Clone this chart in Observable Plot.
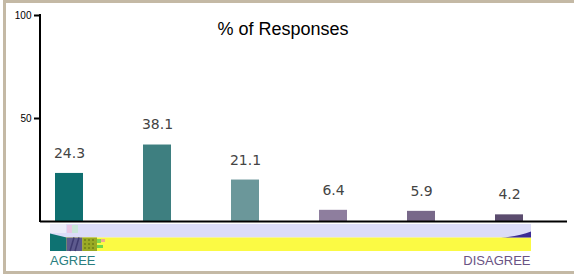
<!DOCTYPE html>
<html><head><meta charset="utf-8">
<script src="https://cdn.jsdelivr.net/npm/d3@7"></script>
<script src="https://cdn.jsdelivr.net/npm/@observablehq/plot@0.6"></script>
<style>
body{margin:0;background:#fff;}
#wrap{position:relative;width:574px;height:275px;overflow:hidden;background:#fff;font-family:"Liberation Sans",Arial,sans-serif;}
#wrap svg.plot{position:absolute;left:0;top:0;}
#border{position:absolute;left:3px;top:0px;width:620px;height:274px;box-sizing:border-box;border:3px solid #c4b9a5;border-right:none;}
#title{position:absolute;left:183px;top:20px;width:200px;text-align:center;font-size:18px;line-height:18px;color:#000;white-space:nowrap;}
.end{position:absolute;top:254px;font-size:13px;line-height:13px;white-space:nowrap;}
#agree{left:50px;color:#2a7e80;}
#disagree{right:43.5px;color:#6a5384;}
#strip{position:absolute;left:0;top:0;}
</style>
</head><body>
<div id="wrap">
  <div id="border"></div>
  <div id="chart"></div>
  <svg id="strip" width="574" height="275">
    <rect x="50" y="224" width="481" height="13.5" fill="#dcdcf8"/>
    <rect x="50" y="224" width="16" height="9" fill="#ececfa"/>
    <rect x="67" y="225" width="5" height="8" fill="#e8c6e6"/>
    <rect x="72" y="225" width="6" height="8" fill="#c8e6d8"/>
    <rect x="50" y="237.5" width="481" height="13.5" fill="#fbfa44"/>
    <polygon points="50,233.5 66.5,237.5 66.5,251 50,251" fill="#0e7272"/>
    <rect x="66.5" y="237.5" width="16" height="13.5" fill="#5d5a8e"/>
    <path d="M70,251 L74,237.5 M75,251 L79,237.5" stroke="#3e3a70" stroke-width="1.5"/>
    <rect x="82.5" y="237.5" width="14.5" height="13.5" fill="#9aaa24"/>
    <path d="M84,240 h12 M84,244 h12 M84,248 h12" stroke="#5a6a10" stroke-width="1.2" stroke-dasharray="2 2"/>
    <rect x="97" y="239" width="4" height="4" fill="#80d850"/>
    <rect x="101" y="239" width="4" height="3" fill="#f0a890"/>
    <rect x="97" y="245" width="6" height="3" fill="#70d848"/>
    <path d="M501,237.5 Q519,236.5 531,231.5 L531,237.5 Z" fill="#3c2c94"/>
  </svg>
  <div id="title">% of Responses</div>
  <div class="end" id="agree">AGREE</div>
  <div class="end" id="disagree">DISAGREE</div>
</div>
<script>
const categories = ["1", "2", "3", "4", "5", "6"];
const values = [24.3, 38.1, 21.1, 6.4, 5.9, 4.2];
const valueLabels = ["24.3", "38.1", "21.1", "6.4", "5.9", "4.2"];
const yTicks = [50, 100];
const barColors = ["#0f6f70", "#3e7f80", "#6b979a", "#8e7e9e", "#786889", "#5b4c6e"];

const data = categories.map((c, i) => ({cat: c, value: values[i], label: valueLabels[i]}));

const chart = Plot.plot({
  width: 574,
  height: 275,
  marginLeft: 40,
  marginRight: 7,
  marginTop: 17,
  marginBottom: 52,
  style: {background: "transparent", fontFamily: "'Liberation Sans', Arial, sans-serif"},
  x: {domain: categories, range: [40, 538], paddingInner: 0.683, paddingOuter: 0.1615, axis: null},
  y: {domain: [0, 100], range: [223, 17], axis: null},
  color: {domain: categories, range: barColors},
  marks: [
    Plot.barY(data, {x: "cat", y: "value", fill: "cat", insetBottom: 2}),
    Plot.text(data, {x: "cat", y: "value", text: "label", dy: -20, fontSize: 14, fill: "#444", fontFamily: "'DejaVu Sans', Verdana, sans-serif"}),
    Plot.ruleY([0], {dy: -2, strokeWidth: 2, stroke: "#000"}),
    Plot.axisY({ticks: yTicks, tickSize: 6, tickPadding: 3, strokeWidth: 2, dy: -2, fontSize: 10, label: null, fill: "#000"})
  ]
});
chart.classList.add("plot");
document.getElementById("chart").appendChild(chart);

const y = chart.scale("y");
d3.select(chart).append("line")
  .attr("x1", 40).attr("x2", 40)
  .attr("y1", y.apply(100) - 3).attr("y2", y.apply(0) - 1)
  .attr("stroke", "#000").attr("stroke-width", 2);
</script>
</body></html>
